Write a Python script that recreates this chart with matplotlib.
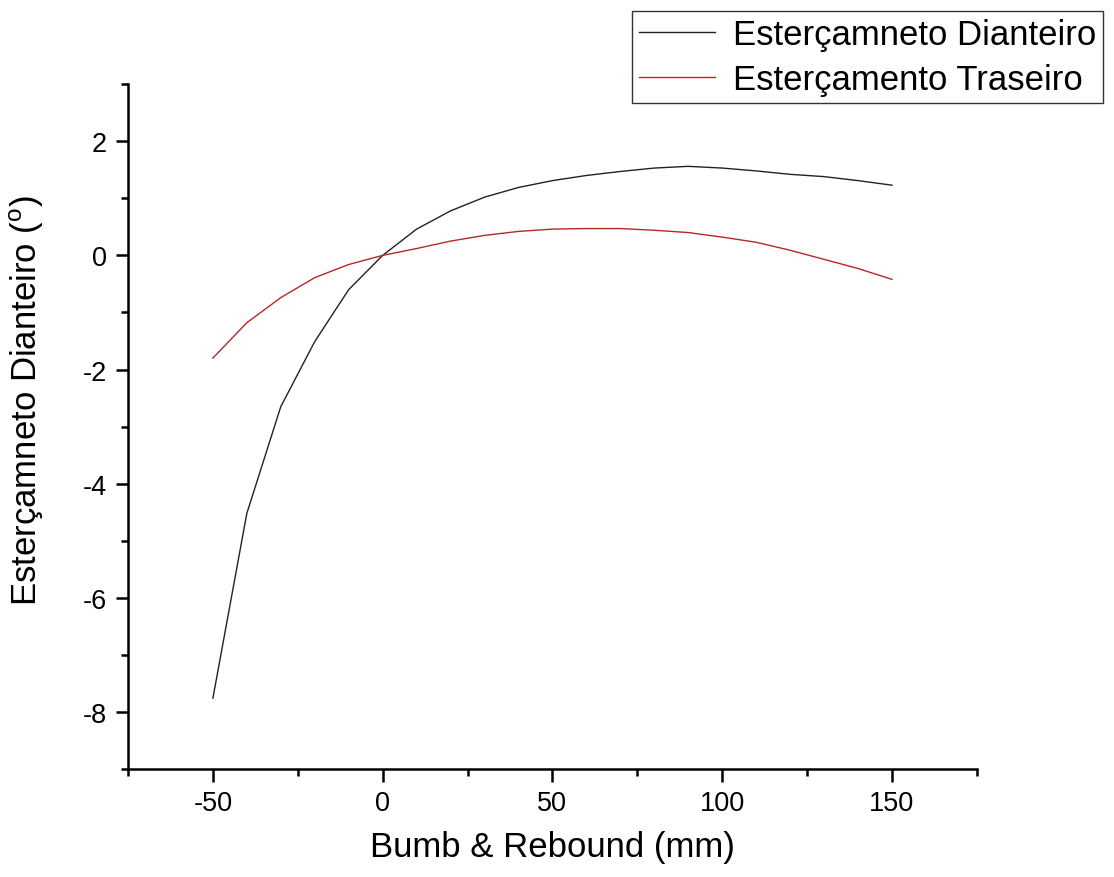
import matplotlib.pyplot as plt
from matplotlib.ticker import MultipleLocator
plt.rcParams['font.family'] = ['Liberation Sans', 'DejaVu Sans']
plt.rcParams['axes.unicode_minus'] = False
plt.rcParams['mathtext.fontset'] = 'custom'
plt.rcParams['mathtext.rm'] = 'Liberation Sans'

# bump / rebound travel (mm)
travel = [-50, -40, -30, -20, -10, 0, 10, 20, 30, 40, 50, 60, 70, 80,
          90, 100, 110, 120, 130, 140, 150]

# steering angle, front and rear (degrees)
front_steer = [-7.76, -4.52, -2.65, -1.51, -0.60, 0.0, 0.46, 0.78, 1.02, 1.19,
               1.31, 1.40, 1.47, 1.53, 1.56, 1.53, 1.48, 1.42, 1.38, 1.31, 1.23]
rear_steer = [-1.80, -1.18, -0.74, -0.39, -0.16, 0.0, 0.12, 0.25, 0.35, 0.42,
              0.46, 0.47, 0.47, 0.44, 0.40, 0.32, 0.23, 0.09, -0.07, -0.23, -0.42]

fig = plt.figure(figsize=(11.14, 8.78), dpi=100)
ax = fig.add_axes([0.1149, 0.123, 0.762, 0.780])

ax.plot(travel, front_steer, color='#222222', lw=1.0, label='Esterçamneto Dianteiro')
ax.plot(travel, rear_steer, color='#b52828', lw=1.0, label='Esterçamento Traseiro')

ax.set_xlim(-75, 175)
ax.set_ylim(-9, 3)
ax.xaxis.set_major_locator(MultipleLocator(50))
ax.xaxis.set_minor_locator(MultipleLocator(25))
ax.yaxis.set_major_locator(MultipleLocator(2))
ax.yaxis.set_minor_locator(MultipleLocator(1))

for side in ['top', 'right']:
    ax.spines[side].set_visible(False)
for side in ['left', 'bottom']:
    ax.spines[side].set_linewidth(1.8)

ax.tick_params(which='major', direction='out', length=9, width=1.8, labelsize=19.5, pad=6)
ax.tick_params(which='minor', direction='out', length=5, width=1.8)

ax.set_xlabel('Bumb & Rebound (mm)', fontsize=25, labelpad=10)
ax.set_ylabel(r'Esterçamneto Dianteiro ($^\mathrm{o}$)', fontsize=25)
ax.yaxis.set_label_coords(-0.097, 0.54)

leg = ax.legend(loc='upper right', bbox_to_anchor=(0.990, 0.986),
                bbox_transform=fig.transFigure, fontsize=25, frameon=True,
                fancybox=False, handlelength=2.2, handletextpad=0.5,
                borderpad=0.2, labelspacing=0.35, borderaxespad=0)
leg.get_frame().set_edgecolor('black')
leg.get_frame().set_linewidth(1.0)

fig.savefig('out.png', dpi=100)
